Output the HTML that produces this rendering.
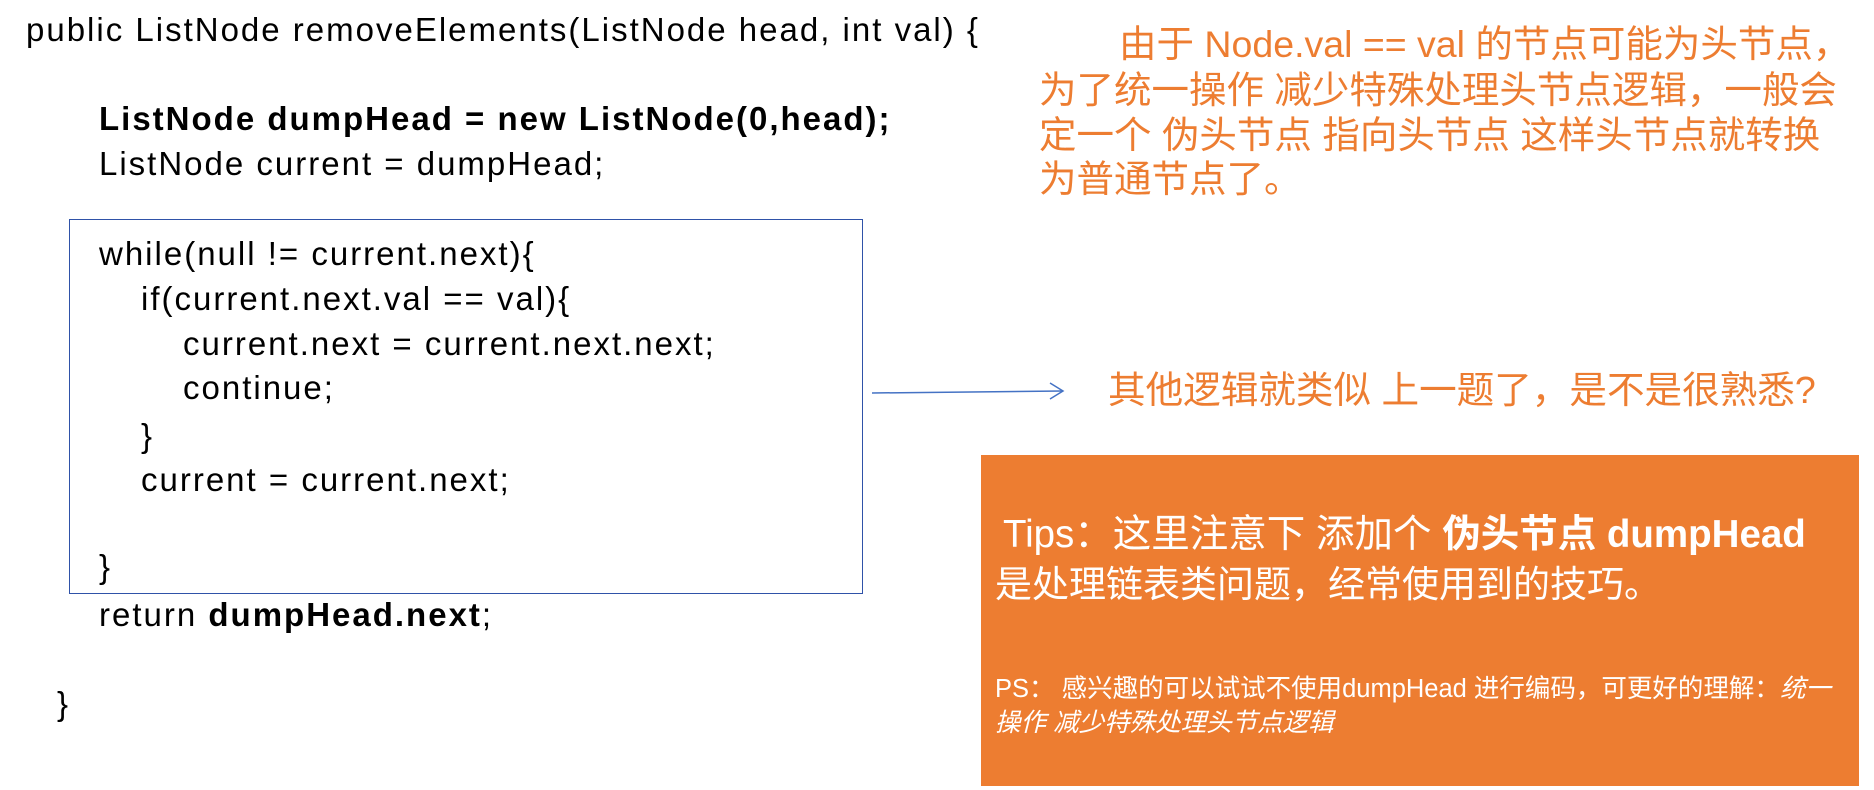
<!DOCTYPE html>
<html><head><meta charset="utf-8"><style>
body{margin:0;width:1874px;height:790px;background:#fff;position:relative;overflow:hidden;font-family:"Liberation Sans","Noto Sans CJK SC",sans-serif;}
.t{position:absolute;white-space:nowrap;line-height:40px;height:40px;}
.c{font-size:33px;letter-spacing:2px;color:#000;}
.o{color:#ED7D31;font-size:37.5px;}
.w{color:#fff;}
</style></head><body>
<div class="t c" style="left:26px;top:10px;">public ListNode removeElements(ListNode head, int val) {</div>
<div class="t c" style="left:99px;top:99px;font-weight:bold;">ListNode dumpHead = new ListNode(0,head);</div>
<div class="t c" style="left:99px;top:144px;">ListNode current = dumpHead;</div>
<div style="position:absolute;left:69px;top:219px;width:792px;height:373px;border:1.5px solid #2F52A8;"></div>
<div class="t c" style="left:99px;top:234px;">while(null != current.next){</div>
<div class="t c" style="left:141px;top:279px;">if(current.next.val == val){</div>
<div class="t c" style="left:183px;top:324px;">current.next = current.next.next;</div>
<div class="t c" style="left:183px;top:368px;">continue;</div>
<div class="t c" style="left:141px;top:416px;">}</div>
<div class="t c" style="left:141px;top:460px;">current = current.next;</div>
<div class="t c" style="left:99px;top:547px;">}</div>
<div class="t c" style="left:99px;top:595px;">return <b>dumpHead.next</b>;</div>
<div class="t c" style="left:57px;top:684px;">}</div>
<svg style="position:absolute;left:0;top:0" width="1874" height="790">
<line x1="872" y1="393" x2="1062" y2="391" stroke="#4472C4" stroke-width="1.5"/>
<polyline points="1050,383 1063,391 1050,399" fill="none" stroke="#4472C4" stroke-width="1.5"/>
</svg>
<div class="t o" style="left:1119px;top:24px;">由于 Node.val == val 的节点可能为头节点，</div>
<div class="t o" style="left:1039px;top:70px;">为了统一操作 减少特殊处理头节点逻辑，一般会</div>
<div class="t o" style="left:1039px;top:115px;">定一个 伪头节点 指向头节点 这样头节点就转换</div>
<div class="t o" style="left:1039px;top:159px;">为普通节点了。</div>
<div class="t o" style="left:1108px;top:370px;font-size:37.6px;">其他逻辑就类似 上一题了，是不是很熟悉?</div>
<div style="position:absolute;left:981px;top:455px;width:878px;height:331px;background:#ED7D31;"></div>
<div class="t w" style="left:1003px;top:515px;font-size:38.5px;">Tips：这里注意下 添加个 <b>伪头节点 dumpHead</b></div>
<div class="t w" style="left:995px;top:565px;font-size:37px;">是处理链表类问题，经常使用到的技巧。</div>
<div class="t w" style="left:995px;top:669px;font-size:25.5px;">PS：  感兴趣的可以试试不使用dumpHead 进行编码，可更好的理解：<i>统一</i></div>
<div class="t w" style="left:995px;top:703px;font-size:25.5px;"><i>操作 减少特殊处理头节点逻辑</i></div>
</body></html>
